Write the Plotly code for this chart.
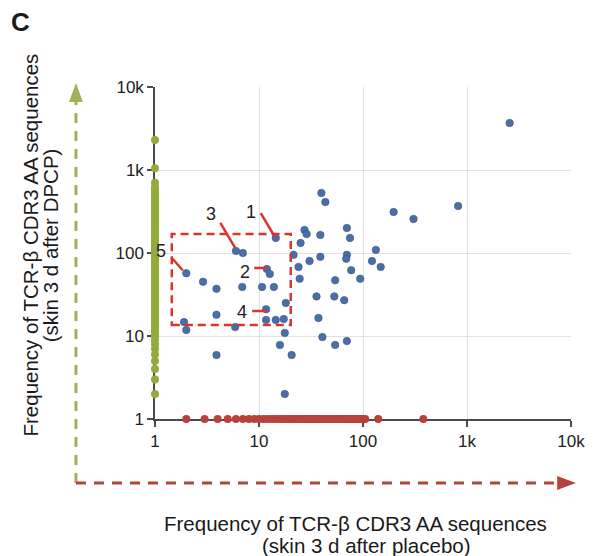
import math
import plotly.graph_objects as go

# clonotypes found in both samples (placebo, DPCP)
shared_x = [14.5, 6.0, 7.0, 2.0, 2.9, 3.9, 6.9, 10.7, 13.9, 11.9, 12.7, 3.9, 11.7, 18.1,
            1.9, 2.0, 5.9, 11.7, 14.5, 17.3, 17.7, 15.9, 20.6, 3.9, 17.7, 27.4, 28.7,
            25.1, 38.9, 21.5, 30.6, 38.9, 24, 24.6, 54, 35.7, 53, 66, 37.3, 40.7, 54,
            70, 39.8, 43.5, 197, 70, 75, 70, 69, 133, 122, 148, 77, 94, 821, 306, 2570]
shared_y = [152, 106, 100, 57, 45, 37, 39, 39, 39, 64, 56, 18, 21, 25,
            14.7, 11.8, 12.8, 15.6, 15.6, 16, 10.9, 7.8, 5.9, 5.9, 2, 189, 169,
            132, 165, 95, 80, 90, 68, 49, 47, 30, 30, 27, 16.5, 9.7, 7.8,
            8.7, 528, 411, 312, 200, 152, 95, 85, 109, 80, 68, 62, 49, 368, 257, 3680]

# clonotypes only in placebo skin (DPCP frequency = 1 on the axis)
placebo_only_x = [2, 3, 4, 5, 6, 7, 8, 9, 10, 11, 12, 13, 14, 15, 16, 17, 18, 19, 20,
                  21, 22, 23, 24, 25, 26, 27, 28, 29, 30, 31, 32, 33, 34, 35, 36, 37,
                  38, 39, 40, 42, 44, 46, 48, 50, 52, 54, 56, 58, 60, 62, 64, 66, 68,
                  70, 72, 74, 76, 78, 80, 83, 86, 89, 92, 95, 98, 101, 105, 140, 380]
placebo_only_y = [1] * len(placebo_only_x)

# clonotypes only in DPCP skin (placebo frequency = 1 on the axis)
dpcp_only_y = [2, 3, 4, 5, 6, 7, 8, 9, 10, 11, 12, 13, 14, 15, 16, 17, 18, 19, 20,
               21, 22, 23, 24, 25, 26, 28, 30, 32, 34, 36, 38, 40, 42, 44, 46, 48,
               50, 53, 56, 59, 62, 65, 68, 72, 76, 80, 84, 88, 92, 96, 100, 105,
               110, 115, 120, 126, 132, 138, 145, 152, 160, 170, 180, 190, 200,
               212, 225, 240, 255, 270, 285, 300, 320, 340, 360, 380, 400, 430,
               460, 500, 540, 580, 620, 700, 1050, 2300]
dpcp_only_x = [1] * len(dpcp_only_y)

tick_vals = [1, 10, 100, 1000, 10000]
tick_text = ["1", "10", "100", "1k", "10k"]

# labelled clonotypes: label, text position, pointer line start/end (data units)
labels = ["1", "2", "3", "4", "5"]
label_x = [8.4, 7.36, 3.42, 6.89, 1.14]
label_y = [312, 59, 295, 19.5, 106]
line_x0 = [10.4, 9.0, 4.25, 8.6, 1.45]
line_y0 = [303, 66, 230, 20, 87]
line_x1 = [14.2, 11.9, 5.9, 11.9, 1.85]
line_y1 = [156, 66, 115, 20, 62]

box_x = [1.45, 20.2]
box_y = [13.6, 169]

FONT = "Arial, Liberation Sans, sans-serif"
BLUE = "#4a6ea6"
RED = "#b8423b"
GREEN = "#93ab3b"
BOX_RED = "#d9352b"

# plot area on screen, in pixels (page body adds an 8px offset)
L, R, T, B = 155, 576, 87, 419
OFF = 8


def px_x(p):
    return (p - L) / (R - L)


def px_y(p):
    return (B - p) / (B - T)


def text_px(x, y, text, size, angle=0, anchor="center"):
    fig.add_annotation(x=px_x(x), y=px_y(y), xref="paper", yref="paper", text=text,
                       showarrow=False, textangle=angle, xanchor=anchor, yanchor="middle",
                       font=dict(family=FONT, size=size, color="#1a1a1a"))


fig = go.Figure()
fig.add_trace(go.Scatter(x=placebo_only_x, y=placebo_only_y, mode="markers",
                         marker=dict(size=8, color=RED), cliponaxis=False))
fig.add_trace(go.Scatter(x=dpcp_only_x, y=dpcp_only_y, mode="markers",
                         marker=dict(size=8, color=GREEN), cliponaxis=False))
fig.add_trace(go.Scatter(x=shared_x, y=shared_y, mode="markers",
                         marker=dict(size=7.5, color=BLUE,
                                     line=dict(width=0.6, color="#3a5a8a")),
                         cliponaxis=False))

# dashed gate around the selected clones
fig.add_shape(type="rect", xref="x", yref="y", x0=box_x[0], x1=box_x[1],
              y0=box_y[0], y1=box_y[1],
              line=dict(color=BOX_RED, width=2.5, dash="8px,5px"))

for i, lab in enumerate(labels):
    fig.add_shape(type="line", xref="x", yref="y",
                  x0=line_x0[i], y0=line_y0[i], x1=line_x1[i], y1=line_y1[i],
                  line=dict(color=BOX_RED, width=2.5))
    fig.add_annotation(x=math.log10(label_x[i]), y=math.log10(label_y[i]),
                       xref="x", yref="y", text=lab, showarrow=False,
                       font=dict(family=FONT, size=18, color="#222"))

# dashed arrows outside the axes
fig.add_shape(type="line", xref="paper", yref="paper",
              x0=px_x(75), x1=px_x(75), y0=px_y(483), y1=px_y(100),
              line=dict(color="#9db25a", width=3, dash="10px,8px"))
fig.add_shape(type="path", xref="paper", yref="paper",
              path="M {} {} L {} {} L {} {} Z".format(px_x(68), px_y(102), px_x(82), px_y(102),
                                                      px_x(75), px_y(83)),
              fillcolor="#9db25a", line=dict(width=0))
fig.add_shape(type="line", xref="paper", yref="paper",
              x0=px_x(75), x1=px_x(564), y0=px_y(483), y1=px_y(483),
              line=dict(color=RED, width=3, dash="10px,8px"))
fig.add_shape(type="path", xref="paper", yref="paper",
              path="M {} {} L {} {} L {} {} Z".format(px_x(562), px_y(476), px_x(562), px_y(490),
                                                      px_x(581), px_y(483)),
              fillcolor=RED, line=dict(width=0))

text_px(7, 22, "<b>C</b>", 26, anchor="left")
text_px(28, 245, "Frequency of TCR-β CDR3 AA sequences", 20.5, angle=-90)
text_px(49, 245, "(skin 3 d after DPCP)", 20.5, angle=-90)
text_px(358, 523, "Frequency of TCR-β CDR3 AA sequences", 20.5)
text_px(369, 545, "(skin 3 d after placebo)", 20.5)

axis_style = dict(type="log", range=[0, 4], tickvals=tick_vals, ticktext=tick_text,
                  showgrid=True, gridcolor="#e2e2e2", gridwidth=1,
                  showline=True, linecolor="#4a4a4a", linewidth=1.5,
                  ticks="outside", ticklen=6, tickcolor="#4a4a4a", tickwidth=1.5,
                  layer="below traces", zeroline=False,
                  tickfont=dict(family=FONT, size=17, color="#222"))

fig.update_layout(
    width=597 - OFF, height=556 - OFF, autosize=False,
    margin=dict(l=L - OFF, r=597 - R, t=T - OFF, b=556 - B),
    plot_bgcolor="white", paper_bgcolor="white",
    showlegend=False,
    xaxis=axis_style,
    yaxis=axis_style,
)

fig.write_html("out.html")
